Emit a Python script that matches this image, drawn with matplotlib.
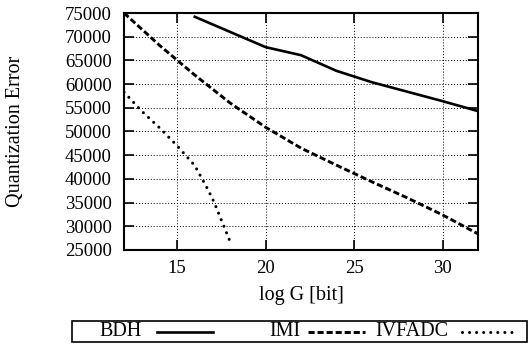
import matplotlib.pyplot as plt
from matplotlib.lines import Line2D
from matplotlib.patches import Rectangle

plt.rcParams['font.family'] = ['Liberation Serif', 'DejaVu Serif']

# log G [bit] vs quantization error
bdh_x = [16, 18, 20, 22, 24, 26, 28, 30, 32]
bdh_y = [74200, 71000, 67800, 66100, 62800, 60400, 58400, 56400, 54300]

imi_x = [12, 14, 16, 18, 20, 22, 24, 26, 28, 30, 32]
imi_y = [75000, 68200, 61900, 56000, 50900, 46500, 42900, 39400, 36000, 32400, 28400]

ivf_x = [12, 13, 14, 15, 16, 16.75, 17.1, 18]
ivf_y = [58300, 54300, 50800, 47000, 42800, 37700, 35000, 26700]

xticks = [15, 20, 25, 30]
yticks = list(range(25000, 75001, 5000))

W, H = 528, 345
fig = plt.figure(figsize=(W / 100, H / 100), dpi=100)
ax = fig.add_axes([124 / W, 1 - 250 / H, (478 - 124) / W, (250 - 13) / H])

sty = {
    'BDH': dict(ls='-', lw=1.9),
    'IMI': dict(ls=(0, (2.1, 1.0)), lw=2.1),
    'IVFADC': dict(ls=(0, (0.01, 2.3)), lw=2.2, dash_capstyle='round'),
}
ax.plot(bdh_x, bdh_y, color='black', **sty['BDH'])
ax.plot(imi_x, imi_y, color='black', **sty['IMI'])
ax.plot(ivf_x, ivf_y, color='black', **sty['IVFADC'])

ax.set_xlim(12, 32)
ax.set_ylim(25000, 75000)
ax.set_xticks(xticks)
ax.set_yticks(yticks)
ax.grid(True, color='black', ls=(0, (1, 2)), lw=0.7)
ax.tick_params(direction='in', length=7, width=1.2, labelsize=13.5,
               top=True, right=True)
ax.tick_params(axis='y', pad=9)
ax.tick_params(axis='x', pad=7)
for s in ax.spines.values():
    s.set_linewidth(1.5)

ax.set_xlabel('log G [bit]', fontsize=14.5, labelpad=7)
ax.set_ylabel('Quantization Error', fontsize=14.5, va='center')
ax.yaxis.set_label_coords((16 - 124) / (478 - 124), 0.5)

# gnuplot style key: label right-aligned, sample after it
fig.add_artist(Rectangle((72 / W, 1 - 342 / H), 455 / W, 21 / H,
                         transform=fig.transFigure, fill=False,
                         edgecolor='black', lw=1.2))
key = [('BDH', 142, 157, 213), ('IMI', 300, 308, 365), ('IVFADC', 448, 462, 514)]
yk = 1 - 332 / H
for name, tx, l0, l1 in key:
    fig.text(tx / W, yk, name, ha='right', va='center', fontsize=14.5)
    fig.add_artist(Line2D([l0 / W, l1 / W], [yk, yk], transform=fig.transFigure,
                          color='black', **sty[name]))

fig.savefig('out.png', dpi=100)
